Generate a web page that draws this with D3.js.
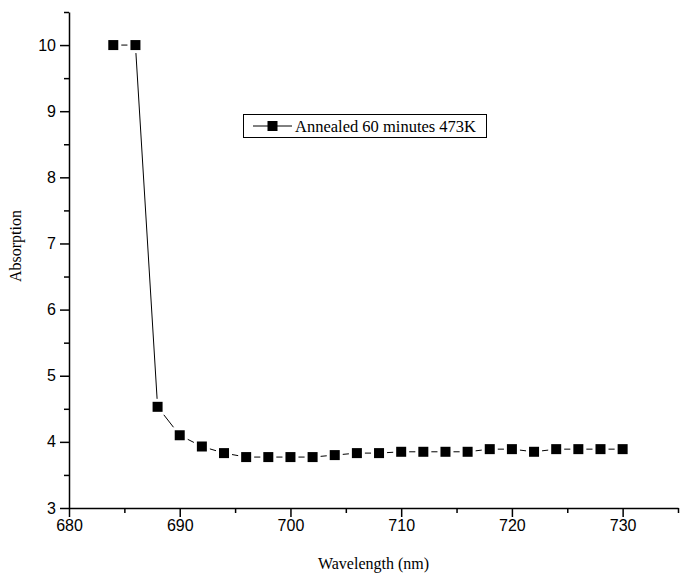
<!DOCTYPE html>
<html><head><meta charset="utf-8">
<script src="https://cdn.jsdelivr.net/npm/d3@7"></script>
<style>body{margin:0;background:#fff}</style>
</head><body>
<svg id="c" width="680" height="576"></svg>
<script>
const wavelengths = [684,686,688,690,692,694,696,698,700,702,704,706,708,710,712,714,716,718,720,722,724,726,728,730];
const absorption = [10,10,4.53,4.10,3.93,3.83,3.77,3.77,3.77,3.77,3.80,3.83,3.83,3.85,3.85,3.85,3.85,3.89,3.89,3.85,3.89,3.89,3.89,3.89];
const xTicks = [680,690,700,710,720,730];
const yTicks = [3,4,5,6,7,8,9,10];
const seriesName = "Annealed 60 minutes 473K";

const svg = d3.select("#c");
const L = 69, R = 678, T = 12, B = 508;
const x = d3.scaleLinear().domain([680,735]).range([L,R]);
const y = d3.scaleLinear().domain([3,10.5]).range([B,T]);
const serif = "'Liberation Serif', 'Times New Roman', serif";

// minor ticks
const xMinor = d3.range(685,736,10);
const yMinor = d3.range(3.5,10.6,1);
svg.append("g").attr("transform",`translate(0,${B})`)
  .call(d3.axisBottom(x).tickValues(xMinor).tickSize(5).tickFormat(""))
  .call(g=>g.select(".domain").remove())
  .selectAll("line").attr("stroke","#000").attr("stroke-width",1.5);
svg.append("g").attr("transform",`translate(${L},0)`)
  .call(d3.axisLeft(y).tickValues(yMinor).tickSize(5).tickFormat(""))
  .call(g=>g.select(".domain").remove())
  .selectAll("line").attr("stroke","#000").attr("stroke-width",1.5);

const xa = svg.append("g").attr("transform",`translate(0,${B})`)
  .call(d3.axisBottom(x).tickValues(xTicks).tickSize(9).tickPadding(3).tickSizeOuter(0));
const ya = svg.append("g").attr("transform",`translate(${L},0)`)
  .call(d3.axisLeft(y).tickValues(yTicks).tickSize(9).tickPadding(4).tickSizeOuter(0));
[xa,ya].forEach(g=>{
  g.select(".domain").attr("stroke","#000").attr("stroke-width",1.5);
  g.selectAll(".tick line").attr("stroke","#000").attr("stroke-width",1.5);
  g.selectAll(".tick text").attr("fill","#000").style("font-family","'Liberation Sans', Arial, sans-serif").style("font-size","16px");
});

const line = d3.line().x((d,i)=>x(wavelengths[i])).y(d=>y(d));
svg.append("path").datum(absorption).attr("d",line).attr("fill","none").attr("stroke","#000").attr("stroke-width",1);
const ms = 10, gap = 3;
svg.append("g").selectAll("rect").data(absorption).join("rect")
  .attr("x",(d,i)=>x(wavelengths[i])-ms/2-gap).attr("y",d=>y(d)-ms/2-gap)
  .attr("width",ms+2*gap).attr("height",ms+2*gap).attr("fill","#fff");
svg.append("g").selectAll("rect").data(absorption).join("rect")
  .attr("x",(d,i)=>x(wavelengths[i])-ms/2).attr("y",d=>y(d)-ms/2)
  .attr("width",ms).attr("height",ms).attr("fill","#000");

// legend
const lg = svg.append("g");
lg.append("rect").attr("x",243.5).attr("y",114.5).attr("width",243).attr("height",23)
  .attr("fill","#fff").attr("stroke","#000").attr("stroke-width",1);
lg.append("line").attr("x1",253).attr("x2",292).attr("y1",126).attr("y2",126).attr("stroke","#000").attr("stroke-width",1);
lg.append("rect").attr("x",272.5-ms/2).attr("y",126-ms/2).attr("width",ms).attr("height",ms).attr("fill","#000");
lg.append("text").attr("x",295).attr("y",132).text(seriesName)
  .style("font-family",serif).style("font-size","16.5px").attr("fill","#000");

// axis titles
svg.append("text").attr("x",(L+R)/2).attr("y",569).attr("text-anchor","middle").text("Wavelength (nm)")
  .style("font-family",serif).style("font-size","16px");
svg.append("text").attr("transform",`translate(21,246) rotate(-90)`).attr("text-anchor","middle").text("Absorption")
  .style("font-family",serif).style("font-size","16px");
</script>
</body></html>
